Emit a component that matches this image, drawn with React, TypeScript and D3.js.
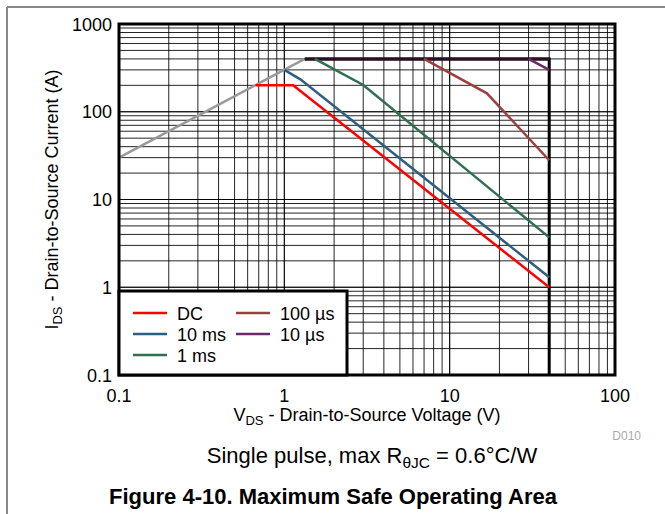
import React from "react";
import * as d3 from "d3";

const W = 665;
const H = 514;

// Data (V in volts, I in amps)
const rdsV = [0.1, 1.33];
const rdsI = [30, 400];
const dcV = [0.67, 1.13, 40];
const dcI = [200, 200, 1.0];
const ms10V = [1.0, 1.25, 40];
const ms10I = [300, 234, 1.3];
const ms1V = [1.53, 3.0, 40];
const ms1I = [400, 202, 3.7];
const us100V = [7.0, 16.8, 40];
const us100I = [400, 162, 28];
const us10V = [30, 40];
const us10I = [400, 300];
const limitV = [1.33, 40, 40];
const limitI = [400, 400, 0.1];

const xTicks = [0.1, 1, 10, 100];
const xTickLabels = ["0.1", "1", "10", "100"];
const yTicks = [0.1, 1, 10, 100, 1000];
const yTickLabels = ["0.1", "1", "10", "100", "1000"];

const legendNames = ["DC", "10 ms", "1 ms", "100 µs", "10 µs"];
const colors = ["#ff0000", "#2f5f7f", "#2f6f4f", "#9e3f3f", "#6b2b6b"];

const FONT = "'Liberation Sans', Arial, Helvetica, sans-serif";

export default function App() {
  const left = 119, right = 615, top = 24, bottom = 375;
  const x = d3.scaleLog().domain([0.1, 100]).range([left, right]);
  const y = d3.scaleLog().domain([0.1, 1000]).range([bottom, top]);

  const line = (vs: number[], is: number[]) =>
    d3.line<number>().x((_, i) => x(vs[i])).y((_, i) => y(is[i]))(vs) || "";

  const xGrid: number[] = [];
  [0.1, 1, 10].forEach((d) => {
    for (let k = 1; k <= 10; k++) xGrid.push(d * k);
  });
  const yGrid: number[] = [];
  [0.1, 1, 10, 100].forEach((d) => {
    for (let k = 1; k <= 10; k++) yGrid.push(d * k);
  });

  const series = [
    { v: dcV, i: dcI, c: colors[0] },
    { v: ms10V, i: ms10I, c: colors[1] },
    { v: ms1V, i: ms1I, c: colors[2] },
    { v: us100V, i: us100I, c: colors[3] },
    { v: us10V, i: us10I, c: colors[4] },
  ];

  const lg = { x0: 119, y0: 291, x1: 347, y1: 375 };
  const legendPos = [
    { lx: 133, ty: 313 },
    { lx: 133, ty: 334 },
    { lx: 133, ty: 355 },
    { lx: 236, ty: 313 },
    { lx: 236, ty: 334 },
  ];

  return (
    <svg width={W} height={H} style={{ position: "absolute", left: 0, top: 0, background: "#fff" }} fontFamily={FONT}>
      {/* outer frame */}
      <line x1={7} y1={7} x2={W} y2={7} stroke="#888" strokeWidth={2} />
      <line x1={7} y1={7} x2={7} y2={H} stroke="#888" strokeWidth={2} />

      {/* grid */}
      <g>
        {xGrid.map((v, k) => (
          <line key={"xg" + k} x1={x(v)} x2={x(v)} y1={top} y2={bottom} stroke="#000" strokeWidth={1} opacity={0.85} />
        ))}
        {yGrid.map((v, k) => (
          <line key={"yg" + k} x1={left} x2={right} y1={y(v)} y2={y(v)} stroke="#000" strokeWidth={1} opacity={0.85} />
        ))}
      </g>

      {/* Rds(on) limit */}
      <path d={line(rdsV, rdsI)} fill="none" stroke="#999" strokeWidth={2.5} />
      {/* boundary */}
      <path d={line(limitV, limitI)} fill="none" stroke="#000" strokeWidth={3} />
      <path d={line(limitV.slice(0, 2), limitI.slice(0, 2))} fill="none" stroke="#2a0f25" strokeWidth={3} />

      {series.map((s, k) => (
        <path key={"s" + k} d={line(s.v, s.i)} fill="none" stroke={s.c} strokeWidth={2.5} />
      ))}

      {/* plot border */}
      <rect x={left} y={top} width={right - left} height={bottom - top} fill="none" stroke="#000" strokeWidth={3} />

      {/* legend */}
      <rect x={lg.x0} y={lg.y0} width={lg.x1 - lg.x0} height={lg.y1 - lg.y0} fill="#fff" stroke="#000" strokeWidth={3} />
      {legendNames.map((n, k) => (
        <g key={"lg" + k}>
          <line x1={legendPos[k].lx} x2={legendPos[k].lx + 34} y1={legendPos[k].ty} y2={legendPos[k].ty} stroke={colors[k]} strokeWidth={2.5} />
          <text x={legendPos[k].lx + 44} y={legendPos[k].ty + 6.5} fontSize={18} fill="#000">{n}</text>
        </g>
      ))}

      {/* tick labels */}
      {yTicks.map((v, k) => (
        <text key={"yt" + k} x={112} y={y(v) + 6.5} textAnchor="end" fontSize={18} fill="#000">{yTickLabels[k]}</text>
      ))}
      {xTicks.map((v, k) => (
        <text key={"xt" + k} x={x(v)} y={402} textAnchor="middle" fontSize={18} fill="#000">{xTickLabels[k]}</text>
      ))}

      {/* axis titles */}
      <text x={(left + right) / 2} y={421} textAnchor="middle" fontSize={18} fill="#000">
        V<tspan fontSize={13} dy={4}>DS</tspan><tspan dy={-4}> - Drain-to-Source Voltage (V)</tspan>
      </text>
      <text transform={`translate(58,${(top + bottom) / 2}) rotate(-90)`} textAnchor="middle" fontSize={18} fill="#000">
        I<tspan fontSize={13} dy={4}>DS</tspan><tspan dy={-4}> - Drain-to-Source Current (A)</tspan>
      </text>

      <text x={641} y={440} textAnchor="end" fontSize={12} fill="#aaa">D010</text>

      <text x={372} y={463} textAnchor="middle" fontSize={22} fill="#000">
        Single pulse, max R<tspan fontSize={15.5} dy={5}>θJC</tspan><tspan dy={-5}> = 0.6°C/W</tspan>
      </text>

      <text x={333} y={504} textAnchor="middle" fontSize={22} fontWeight="bold" fill="#000">
        Figure 4-10. Maximum Safe Operating Area
      </text>
    </svg>
  );
}
